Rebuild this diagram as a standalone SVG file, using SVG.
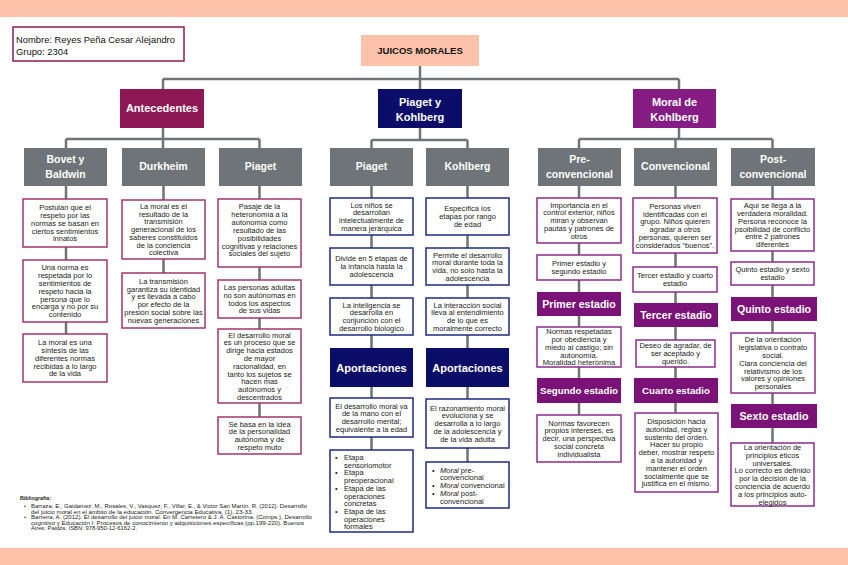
<svg xmlns="http://www.w3.org/2000/svg" width="848" height="565" viewBox="0 0 848 565">
<style>
text{font-family:"Liberation Sans",Arial,sans-serif}
.band{fill:#FDC3AA}
.con{stroke:#6E7478;stroke-width:2.5;fill:none}
.gray{fill:#6E7478}
.mar{fill:#8E1853}
.nav{fill:#0C0D69}
.pur{fill:#841C84}
.pst{fill:#7B1278}
.bm{fill:#fff;stroke:#A2346F;stroke-width:1.5}
.bn{fill:#fff;stroke:#1F2A85;stroke-width:1.5}
.bp{fill:#fff;stroke:#8E2B8E;stroke-width:1.5}
.h1{fill:#fff;font-weight:bold;font-size:11px;text-anchor:middle}
.h2{fill:#fff;font-weight:bold;font-size:10.5px;text-anchor:middle}
.st{fill:#fff;font-weight:bold;font-size:10.6px;text-anchor:middle}
.st2{fill:#fff;font-weight:bold;font-size:9.7px;text-anchor:middle}
.t{fill:#222;font-size:7.5px;text-anchor:middle}
.l{fill:#222;font-size:7.5px}
.bib{fill:#222;font-size:5.3px}
</style>
<rect class="band" x="0" y="0" width="848" height="17"/>
<rect class="band" x="0" y="548" width="848" height="17"/>

<g id="info">
<rect x="13" y="27" width="171" height="34" fill="#fff" stroke="#8E1853" stroke-width="1.5"/>
<text x="16" y="42.5" font-size="9.4" fill="#111">Nombre: Reyes Peña Cesar Alejandro</text>
<text x="16" y="54.5" font-size="9.4" fill="#111">Grupo: 2304</text>
</g>

<g id="connectors">
<path class="con" d="M420 66V79M163 79H679M163 79V89M420 79V89M679 79V89"/>
<path class="con" d="M163 128V139M66 139H259.5M66 139V148M163 139V148M259.5 139V148"/>
<path class="con" d="M420 128V140M371.5 140H467.5M371.5 140V148M467.5 140V148"/>
<path class="con" d="M679 128V139M579 139H772.5M579 139V148M675.5 139V148M772.5 139V148"/>
<path class="con" d="M66 186V334M163.5 186V273M259.5 186V417M371.5 186V450M467.5 186V462M579 186V415M675.5 186V413M772.5 186V443"/>
</g>

<g id="title">
<rect class="band" x="361" y="35" width="118" height="31"/>
<text x="420" y="53.5" font-size="9.5" font-weight="bold" text-anchor="middle" fill="#111">JUICOS MORALES</text>
</g>

<g id="antecedentes">
<rect class="mar" x="120" y="89" width="84" height="39"/>
<text class="h1" x="162" y="112">Antecedentes</text>
</g>
<g id="piaget-kohlberg">
<rect class="nav" x="378" y="89" width="84" height="39"/>
<text class="h1" x="420" y="106">Piaget y</text>
<text class="h1" x="420" y="121">Kohlberg</text>
</g>
<g id="moral-kohlberg">
<rect class="pur" x="633" y="89" width="83" height="39"/>
<text class="h1" x="674.5" y="106">Moral de</text>
<text class="h1" x="674.5" y="121">Kohlberg</text>
</g>

<g id="bovet">
<rect class="gray" x="24" y="148" width="83" height="38"/>
<text class="h2" x="65.5" y="163">Bovet y</text>
<text class="h2" x="65.5" y="178">Baldwin</text>
</g>
<g id="durkheim">
<rect class="gray" x="122" y="148" width="83" height="38"/>
<text class="h2" x="163.5" y="170">Durkheim</text>
</g>
<g id="piaget-a">
<rect class="gray" x="219" y="148" width="83" height="38"/>
<text class="h2" x="260.5" y="170">Piaget</text>
</g>
<g id="piaget-b">
<rect class="gray" x="330" y="148" width="83" height="38"/>
<text class="h2" x="371.5" y="170">Piaget</text>
</g>
<g id="kohlberg-b">
<rect class="gray" x="426" y="148" width="83" height="38"/>
<text class="h2" x="467.5" y="170">Kohlberg</text>
</g>
<g id="preconv">
<rect class="gray" x="538" y="148" width="83" height="38"/>
<text class="h2" x="579.5" y="163">Pre-</text>
<text class="h2" x="579.5" y="178">convencional</text>
</g>
<g id="conv">
<rect class="gray" x="634" y="148" width="83" height="38"/>
<text class="h2" x="675.5" y="170">Convencional</text>
</g>
<g id="postconv">
<rect class="gray" x="731" y="148" width="84" height="38"/>
<text class="h2" x="773" y="163">Post-</text>
<text class="h2" x="773" y="178">convencional</text>
</g>

<!-- Bovet column -->
<g id="bovet-1">
<rect class="bm" x="23" y="199" width="84" height="48"/>
<text class="t" x="65" y="210.1">Postulan que el</text>
<text class="t" x="65" y="217.9">respeto por las</text>
<text class="t" x="65" y="225.7">normas se basan en</text>
<text class="t" x="65" y="233.5">ciertos sentimientos</text>
<text class="t" x="65" y="241.3">innatos</text>
</g>
<g id="bovet-2">
<rect class="bm" x="23" y="260" width="84" height="62"/>
<text class="t" x="65" y="270.3">Una norma es</text>
<text class="t" x="65" y="278.1">respetada por lo</text>
<text class="t" x="65" y="285.9">sentimientos de</text>
<text class="t" x="65" y="293.7">respeto hacia la</text>
<text class="t" x="65" y="301.5">persona que lo</text>
<text class="t" x="65" y="309.3">encarga y no por su</text>
<text class="t" x="65" y="317.1">contenido</text>
</g>
<g id="bovet-3">
<rect class="bm" x="23" y="334" width="84" height="48"/>
<text class="t" x="65" y="345.1">La moral es una</text>
<text class="t" x="65" y="352.9">síntesis de las</text>
<text class="t" x="65" y="360.7">diferentes normas</text>
<text class="t" x="65" y="368.5">recibidas a lo largo</text>
<text class="t" x="65" y="376.3">de la vida</text>
</g>

<!-- Durkheim column -->
<g id="durkheim-1">
<rect class="bm" x="122" y="200" width="83" height="59"/>
<text class="t" x="163.5" y="209">La moral es el</text>
<text class="t" x="163.5" y="216.7">resultado de la</text>
<text class="t" x="163.5" y="224.4">transmisión</text>
<text class="t" x="163.5" y="232.1">generacional de los</text>
<text class="t" x="163.5" y="239.8">saberes constituidos</text>
<text class="t" x="163.5" y="247.5">de la conciencia</text>
<text class="t" x="163.5" y="255.2">colectiva</text>
</g>
<g id="durkheim-2">
<rect class="bm" x="122" y="273" width="83" height="55"/>
<text class="t" x="163.5" y="283.7">La transmisión</text>
<text class="t" x="163.5" y="291.5">garantiza su identidad</text>
<text class="t" x="163.5" y="299.3">y es llevada a cabo</text>
<text class="t" x="163.5" y="307.1">por efecto de la</text>
<text class="t" x="163.5" y="314.9">presión social sobre las</text>
<text class="t" x="163.5" y="322.7">nuevas generaciones</text>
</g>

<!-- Piaget antecedentes column -->
<g id="piaget-a-1">
<rect class="bm" x="218" y="199" width="83" height="68"/>
<text class="t" x="259.5" y="209">Pasaje de la</text>
<text class="t" x="259.5" y="216.9">heteronomía a la</text>
<text class="t" x="259.5" y="224.8">autonomía como</text>
<text class="t" x="259.5" y="232.7">resultado de las</text>
<text class="t" x="259.5" y="240.6">posibilidades</text>
<text class="t" x="259.5" y="248.5">cognitivas y relaciones</text>
<text class="t" x="259.5" y="256.4">sociales del sujeto</text>
</g>
<g id="piaget-a-2">
<rect class="bm" x="218" y="280" width="83" height="38"/>
<text class="t" x="259.5" y="290">Las personas adultas</text>
<text class="t" x="259.5" y="297.8">no son autónomas en</text>
<text class="t" x="259.5" y="305.6">todos los aspectos</text>
<text class="t" x="259.5" y="313.4">de sus vidas</text>
</g>
<g id="piaget-a-3">
<rect class="bm" x="218" y="329" width="83" height="74"/>
<text class="t" x="259.5" y="337.5">El desarrollo moral</text>
<text class="t" x="259.5" y="345.3">es un proceso que se</text>
<text class="t" x="259.5" y="353.1">dirige hacia estados</text>
<text class="t" x="259.5" y="360.9">de mayor</text>
<text class="t" x="259.5" y="368.7">racionalidad, en</text>
<text class="t" x="259.5" y="376.5">tanto los sujetos se</text>
<text class="t" x="259.5" y="384.3">hacen mas</text>
<text class="t" x="259.5" y="392.1">autónomos y</text>
<text class="t" x="259.5" y="399.9">descentrados</text>
</g>
<g id="piaget-a-4">
<rect class="bm" x="218" y="417" width="83" height="37"/>
<text class="t" x="259.5" y="426.5">Se basa en la idea</text>
<text class="t" x="259.5" y="434.3">de la personalidad</text>
<text class="t" x="259.5" y="442.1">autónoma y de</text>
<text class="t" x="259.5" y="449.9">respeto muto</text>
</g>

<!-- Piaget (P&K) column -->
<g id="piaget-b-1">
<rect class="bn" x="330" y="198" width="83" height="37"/>
<text class="t" x="371.5" y="207.5">Los niños se</text>
<text class="t" x="371.5" y="215.3">desarrollan</text>
<text class="t" x="371.5" y="223.1">intelectualmente de</text>
<text class="t" x="371.5" y="230.9">manera jerárquica</text>
</g>
<g id="piaget-b-2">
<rect class="bn" x="330" y="248" width="83" height="37"/>
<text class="t" x="371.5" y="261.4">Divide en 5 etapas de</text>
<text class="t" x="371.5" y="269.2">la infancia hasta la</text>
<text class="t" x="371.5" y="277">adolescencia</text>
</g>
<g id="piaget-b-3">
<rect class="bn" x="330" y="298" width="83" height="37"/>
<text class="t" x="371.5" y="307.5">La inteligencia se</text>
<text class="t" x="371.5" y="315.3">desarrolla en</text>
<text class="t" x="371.5" y="323.1">conjunción con el</text>
<text class="t" x="371.5" y="330.9">desarrollo biologico</text>
</g>
<g id="aport-piaget">
<rect class="nav" x="330" y="348" width="83" height="39"/>
<text class="h1" x="371.5" y="371.5">Aportaciones</text>
</g>
<g id="piaget-b-4">
<rect class="bn" x="330" y="398" width="83" height="39"/>
<text class="t" x="371.5" y="408.5">El desarrollo moral va</text>
<text class="t" x="371.5" y="416.3">de la mano con el</text>
<text class="t" x="371.5" y="424.1">desarrollo mental;</text>
<text class="t" x="371.5" y="431.9">equivalente a la edad</text>
</g>
<g id="piaget-b-5">
<rect class="bn" x="330" y="450" width="83" height="82"/>
<text class="l" x="335" y="460">•</text><text class="l" x="344" y="460">Etapa</text>
<text class="l" x="344" y="467.7">sensoriomotor</text>
<text class="l" x="335" y="475.4">•</text><text class="l" x="344" y="475.4">Etapa</text>
<text class="l" x="344" y="483.1">preoperacional</text>
<text class="l" x="335" y="490.8">•</text><text class="l" x="344" y="490.8">Etapa de las</text>
<text class="l" x="344" y="498.5">operaciones</text>
<text class="l" x="344" y="506.2">concretas</text>
<text class="l" x="335" y="513.9">•</text><text class="l" x="344" y="513.9">Etapa de las</text>
<text class="l" x="344" y="521.6">operaciones</text>
<text class="l" x="344" y="529.3">formales</text>
</g>

<!-- Kohlberg (P&K) column -->
<g id="kohlberg-b-1">
<rect class="bn" x="426" y="198" width="83" height="37"/>
<text class="t" x="467.5" y="211.4">Específica los</text>
<text class="t" x="467.5" y="219.2">etapas por rango</text>
<text class="t" x="467.5" y="227">de edad</text>
</g>
<g id="kohlberg-b-2">
<rect class="bn" x="426" y="248" width="83" height="37"/>
<text class="t" x="467.5" y="257.5">Permite el desarrollo</text>
<text class="t" x="467.5" y="265.3">moral durante toda la</text>
<text class="t" x="467.5" y="273.1">vida, no solo hasta la</text>
<text class="t" x="467.5" y="280.9">adolescencia</text>
</g>
<g id="kohlberg-b-3">
<rect class="bn" x="426" y="298" width="83" height="37"/>
<text class="t" x="467.5" y="307.5">La interacción social</text>
<text class="t" x="467.5" y="315.3">lleva al entendimiento</text>
<text class="t" x="467.5" y="323.1">de lo que es</text>
<text class="t" x="467.5" y="330.9">moralmente correcto</text>
</g>
<g id="aport-kohlberg">
<rect class="nav" x="426" y="348" width="83" height="39"/>
<text class="h1" x="467.5" y="371.5">Aportaciones</text>
</g>
<g id="kohlberg-b-4">
<rect class="bn" x="426" y="399" width="83" height="49"/>
<text class="t" x="467.5" y="410.6">El razonamiento moral</text>
<text class="t" x="467.5" y="418.4">evoluciona y se</text>
<text class="t" x="467.5" y="426.2">desarrolla a lo largo</text>
<text class="t" x="467.5" y="434">de la adolescencia y</text>
<text class="t" x="467.5" y="441.8">de la vida adulta</text>
</g>
<g id="kohlberg-b-5">
<rect class="bn" x="426" y="462" width="83" height="46"/>
<text class="l" x="432" y="472.5">•</text><text class="l" x="440" y="472.5"><tspan font-style="italic">Moral</tspan> pre-</text>
<text class="l" x="440" y="480.3">convencional</text>
<text class="l" x="432" y="488.1">•</text><text class="l" x="440" y="488.1"><tspan font-style="italic">Moral</tspan> convencional</text>
<text class="l" x="432" y="495.9">•</text><text class="l" x="440" y="495.9"><tspan font-style="italic">Moral</tspan> post-</text>
<text class="l" x="440" y="503.7">convencional</text>
</g>

<!-- Pre-convencional column -->
<g id="pre-1">
<rect class="bp" x="537" y="198" width="84" height="45"/>
<text class="t" x="579" y="207.6">Importancia en el</text>
<text class="t" x="579" y="215.4">control exterior, niños</text>
<text class="t" x="579" y="223.2">miran y observan</text>
<text class="t" x="579" y="231">pautas y patrones de</text>
<text class="t" x="579" y="238.8">otros</text>
</g>
<g id="pre-2">
<rect class="bp" x="537" y="255" width="84" height="25"/>
<text class="t" x="579" y="266.3">Primer estadio y</text>
<text class="t" x="579" y="274.1">segundo estadio</text>
</g>
<g id="primer">
<rect class="pst" x="537" y="292" width="84" height="24"/>
<text class="st" x="579" y="308">Primer estadio</text>
</g>
<g id="pre-3">
<rect class="bp" x="537" y="327" width="84" height="40"/>
<text class="t" x="579" y="334.1">Normas respetadas</text>
<text class="t" x="579" y="341.9">por obediencia y</text>
<text class="t" x="579" y="349.7">miedo al castigo; sin</text>
<text class="t" x="579" y="357.5">autonomía.</text>
<text class="t" x="579" y="365.3">Moralidad heterónima</text>
</g>
<g id="segundo">
<rect class="pst" x="537" y="378" width="84" height="25"/>
<text class="st2" x="579" y="394">Segundo estadio</text>
</g>
<g id="pre-4">
<rect class="bp" x="537" y="415" width="84" height="47"/>
<text class="t" x="579" y="425.6">Normas favorecen</text>
<text class="t" x="579" y="433.4">propios intereses, es</text>
<text class="t" x="579" y="441.2">decir, una perspectiva</text>
<text class="t" x="579" y="449">social concreta</text>
<text class="t" x="579" y="456.8">individualista</text>
</g>

<!-- Convencional column -->
<g id="conv-1">
<rect class="bp" x="633" y="198" width="84" height="55"/>
<text class="t" x="675" y="208.7">Personas viven</text>
<text class="t" x="675" y="216.5">identificadas con el</text>
<text class="t" x="675" y="224.3">grupo. Niños quieren</text>
<text class="t" x="675" y="232.1">agradar a otros</text>
<text class="t" x="675" y="239.9">personas, quieren ser</text>
<text class="t" x="675" y="247.7">considerados “buenos”.</text>
</g>
<g id="conv-2">
<rect class="bp" x="633" y="267" width="84" height="25"/>
<text class="t" x="675" y="278.3">Tercer estadio y cuarto</text>
<text class="t" x="675" y="286.1">estadio</text>
</g>
<g id="tercer">
<rect class="pst" x="634" y="303" width="84" height="24"/>
<text class="st" x="676" y="319">Tercer estadio</text>
</g>
<g id="conv-3">
<rect class="bp" x="636" y="340" width="79" height="27"/>
<text class="t" x="675.5" y="348.4">Deseo de agradar, de</text>
<text class="t" x="675.5" y="356.2">ser aceptado y</text>
<text class="t" x="675.5" y="364">querido.</text>
</g>
<g id="cuarto">
<rect class="pst" x="634" y="378" width="84" height="25"/>
<text class="st2" x="676" y="394">Cuarto estadio</text>
</g>
<g id="conv-4">
<rect class="bp" x="635" y="413" width="83" height="79"/>
<text class="t" x="676.5" y="424">Disposición hacia</text>
<text class="t" x="676.5" y="431.8">autoridad, reglas y</text>
<text class="t" x="676.5" y="439.6">sustento del orden.</text>
<text class="t" x="676.5" y="447.4">Hacer su propio</text>
<text class="t" x="676.5" y="455.2">deber, mostrar respeto</text>
<text class="t" x="676.5" y="463">a la autoridad y</text>
<text class="t" x="676.5" y="470.8">mantener el orden</text>
<text class="t" x="676.5" y="478.6">socialmente que se</text>
<text class="t" x="676.5" y="486.4">justifica en el mismo.</text>
</g>

<!-- Post-convencional column -->
<g id="post-1">
<rect class="bp" x="731" y="199" width="83" height="52"/>
<text class="t" x="772.5" y="208.2">Aquí se llega a la</text>
<text class="t" x="772.5" y="216">verdadera moralidad.</text>
<text class="t" x="772.5" y="223.8">Persona reconoce la</text>
<text class="t" x="772.5" y="231.6">psoibilidad de conflicto</text>
<text class="t" x="772.5" y="239.4">entre 2 patrones</text>
<text class="t" x="772.5" y="247.2">diferentes</text>
</g>
<g id="post-2">
<rect class="bp" x="731" y="262" width="83" height="23"/>
<text class="t" x="772.5" y="272.3">Quinto estadio y sexto</text>
<text class="t" x="772.5" y="280.1">estadio</text>
</g>
<g id="quinto">
<rect class="pst" x="731" y="297" width="86" height="24"/>
<text class="st" x="774" y="313">Quinto estadio</text>
</g>
<g id="post-3">
<rect class="bp" x="731" y="333" width="84" height="60"/>
<text class="t" x="773" y="342.3">De la orientación</text>
<text class="t" x="773" y="350.1">legislativa o contrato</text>
<text class="t" x="773" y="357.9">social.</text>
<text class="t" x="773" y="365.7">Clara conciencia del</text>
<text class="t" x="773" y="373.5">relativismo de los</text>
<text class="t" x="773" y="381.3">valores y opiniones</text>
<text class="t" x="773" y="389.1">personales</text>
</g>
<g id="sexto">
<rect class="pst" x="731" y="404" width="86" height="24"/>
<text class="st" x="774" y="420">Sexto estadio</text>
</g>
<g id="post-4">
<rect class="bp" x="731" y="443" width="83" height="63"/>
<text class="t" x="772.5" y="449.9">La orientación de</text>
<text class="t" x="772.5" y="457.7">principios éticos</text>
<text class="t" x="772.5" y="465.5">universales.</text>
<text class="t" x="772.5" y="473.3">Lo correcto es definido</text>
<text class="t" x="772.5" y="481.1">por la decisión de la</text>
<text class="t" x="772.5" y="488.9">conciencia de acuerdo</text>
<text class="t" x="772.5" y="496.7">a los principios auto-</text>
<text class="t" x="772.5" y="504.5">elegidos</text>
</g>

<g id="bibliografia">
<text class="bib" x="20" y="500" font-weight="bold">Bibliografía:</text>
<text class="bib" x="24" y="508">•</text>
<text class="bib" x="31" y="508" textLength="276" lengthAdjust="spacingAndGlyphs">Barraza, E., Gaidamez, M., Rosales, V., Vasquez, F., Villar, E., &amp; Victor San Martín, R. (2012). Desarrollo</text>
<text class="bib" x="31" y="513.5" textLength="222" lengthAdjust="spacingAndGlyphs">del juicio moral en el ámbito de la educación. Convergencia Educativa, (1), 23-33.</text>
<text class="bib" x="24" y="519">•</text>
<text class="bib" x="31" y="519" textLength="281" lengthAdjust="spacingAndGlyphs">Barreira, A. (2012). El desarrollo del juicio moral. En M. Carretero &amp; J. A. Castorina. (Comps.), Desarrollo</text>
<text class="bib" x="31" y="524.5" textLength="273" lengthAdjust="spacingAndGlyphs">cognitivo y Educación I: Procesos de conocimiento y adquisiciones específicas (pp.199-220). Buenos</text>
<text class="bib" x="31" y="530" textLength="106" lengthAdjust="spacingAndGlyphs">Aires: Paidós. ISBN: 978-950-12-6162-2.</text>
</g>
</svg>
